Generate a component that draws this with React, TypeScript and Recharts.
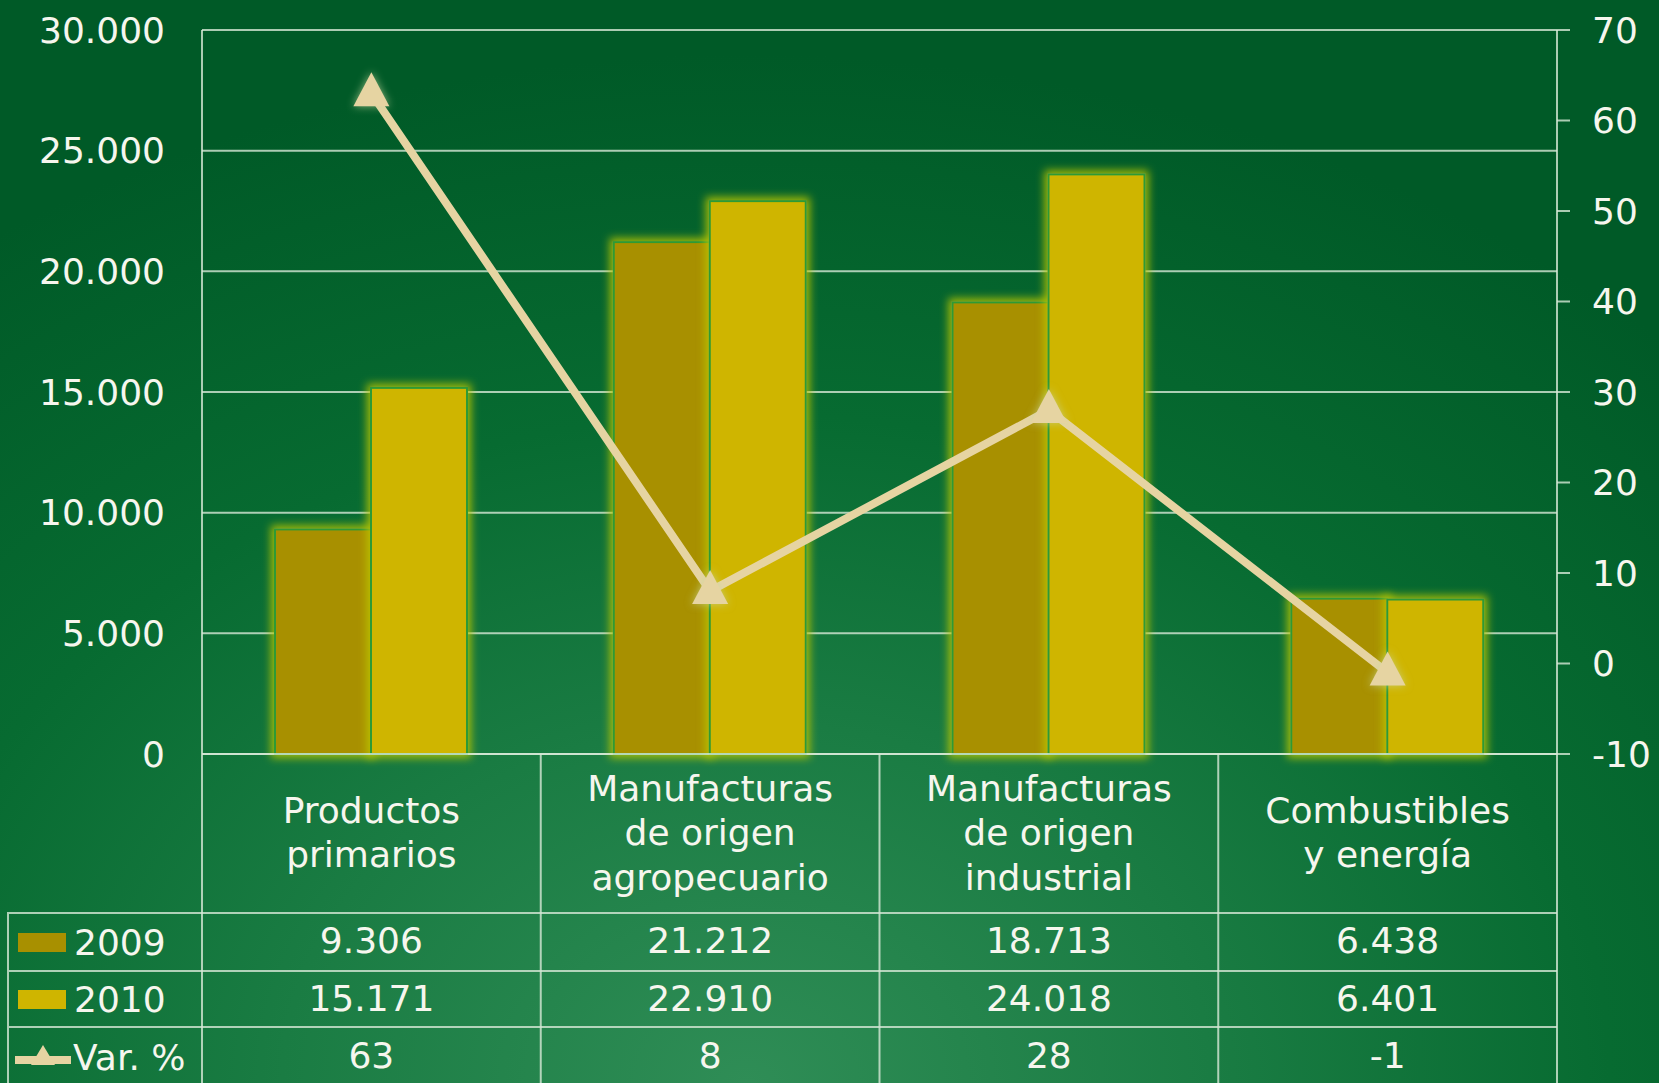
import React from 'react';
import { ComposedChart, Bar, Line, XAxis, YAxis, CartesianGrid, Legend } from 'recharts';

const categories = [
  'Productos\nprimarios',
  'Manufacturas\nde origen\nagropecuario',
  'Manufacturas\nde origen\nindustrial',
  'Combustibles\ny energía',
];
const exports2009 = [9306, 21212, 18713, 6438];
const exports2010 = [15171, 22910, 24018, 6401];
const variation = [63, 8, 28, -1];
const valueTicks = [0, 5000, 10000, 15000, 20000, 25000, 30000];
const pctTicks = [-10, 0, 10, 20, 30, 40, 50, 60, 70];

const data = categories.map((name, i) => ({
  name,
  y2009: exports2009[i],
  y2010: exports2010[i],
  pct: variation[i],
}));

const FONT = '"DejaVu Sans", Verdana, sans-serif';
const TEXT = '#F6F6EE';
const GRID = 'rgba(215,232,215,0.8)';
const LINE = '#E6D4A2';
const C2009 = '#A89000';
const C2010 = '#CFB500';

const fmt = (n: number) => String(n).replace(/\B(?=(\d{3})+(?!\d))/g, '.');

const GlowBar = (p: any) => (
  <rect
    x={p.x}
    y={p.y}
    width={p.width}
    height={p.height}
    fill={p.fill}
    stroke="#2E9A34"
    strokeWidth={2}
    filter="url(#barGlow)"
  />
);

const TriangleDot = (p: any) => {
  const { cx, cy } = p;
  if (cx == null || cy == null) return null;
  return (
    <polygon
      points={`${cx},${cy - 21} ${cx - 18},${cy + 13} ${cx + 18},${cy + 13}`}
      fill={LINE}
      filter="url(#triGlow)"
    />
  );
};

// category label plus the data table column under it
const TableTick = (props: any) => {
  const { x, y, payload, index } = props;
  const half = payload && payload.offset ? payload.offset : 169.4;
  const lines = String(payload.value).split('\n');
  const rows = [fmt(exports2009[index]), fmt(exports2010[index]), String(variation[index])];
  const left = x - half;
  const right = x + half;
  return (
    <g>
      <line x1={left} y1={y} x2={left} y2={y + 340} stroke={GRID} strokeWidth={2} />
      {index === categories.length - 1 && (
        <line x1={right} y1={y} x2={right} y2={y + 340} stroke={GRID} strokeWidth={2} />
      )}
      {[159, 217, 273].map((dy) => (
        <line key={dy} x1={left} y1={y + dy} x2={right} y2={y + dy} stroke={GRID} strokeWidth={2} />
      ))}
      <text textAnchor="middle" fill={TEXT} fontSize={36} fontFamily={FONT}>
        {lines.map((l, k) => (
          <tspan key={k} x={x} y={y + 91 + (k - (lines.length - 1) / 2) * 44.5}>
            {l}
          </tspan>
        ))}
      </text>
      {rows.map((r, k) => (
        <text
          key={k}
          x={x}
          y={y + [199, 257, 314][k]}
          textAnchor="middle"
          fill={TEXT}
          fontSize={36}
          fontFamily={FONT}
        >
          {r}
        </text>
      ))}
    </g>
  );
};

const order = ['y2009', 'y2010', 'pct'];

const LegendTable = (props: any) => {
  const items = [...(props.payload || [])].sort(
    (a: any, b: any) => order.indexOf(a.dataKey) - order.indexOf(b.dataKey)
  );
  const heights = [58, 56, 60];
  return (
    <div style={{ width: 195, fontFamily: FONT, fontSize: 36, color: TEXT }}>
      {items.map((it: any, k: number) => (
        <div
          key={it.dataKey}
          style={{
            height: heights[k],
            borderTop: `2px solid ${GRID}`,
            borderLeft: `2px solid ${GRID}`,
            boxSizing: 'border-box',
            display: 'flex',
            alignItems: 'center',
            whiteSpace: 'nowrap',
          }}
        >
          {it.dataKey === 'pct' ? (
            <svg width={60} height={30} style={{ marginLeft: 4 }}>
              <line x1={2} y1={18} x2={58} y2={18} stroke={LINE} strokeWidth={8} />
              <polygon points="30,3 18,23 42,23" fill={LINE} />
            </svg>
          ) : (
            <div style={{ width: 48, height: 19, background: it.color, marginLeft: 9, marginRight: 8 }} />
          )}
          <span>{it.value}</span>
        </div>
      ))}
    </div>
  );
};

export default function App() {
  return (
    <div
      style={{
        position: 'absolute',
        left: 0,
        top: 0,
        width: 1659,
        height: 1083,
        overflow: 'hidden',
        background:
          'radial-gradient(ellipse 80% 95% at 45% 100%, #2F8D56 0%, #1A7C43 35%, #076B31 65%, #005A27 100%)',
      }}
    >
      <ComposedChart
        width={1659}
        height={1083}
        data={data}
        margin={{ top: 30, right: 0, bottom: 0, left: 0 }}
        barGap={0}
        style={{ fontFamily: FONT }}
      >
        <defs>
          <filter id="barGlow" x="-20%" y="-10%" width="140%" height="120%">
            <feMorphology in="SourceAlpha" operator="dilate" radius="3" result="d" />
            <feGaussianBlur in="d" stdDeviation="4.5" result="b" />
            <feFlood floodColor="#BCC800" floodOpacity="0.85" />
            <feComposite in2="b" operator="in" result="g" />
            <feMerge>
              <feMergeNode in="g" />
              <feMergeNode in="SourceGraphic" />
            </feMerge>
          </filter>
          <filter id="triGlow" x="-60%" y="-60%" width="220%" height="220%">
            <feGaussianBlur in="SourceAlpha" stdDeviation="4" result="b" />
            <feFlood floodColor="#C8D8A0" floodOpacity="0.7" />
            <feComposite in2="b" operator="in" result="g" />
            <feMerge>
              <feMergeNode in="g" />
              <feMergeNode in="SourceGraphic" />
            </feMerge>
          </filter>
        </defs>
        <CartesianGrid yAxisId="val" vertical={false} stroke={GRID} strokeWidth={2} />
        <XAxis
          dataKey="name"
          height={329}
          interval={0}
          tickSize={0}
          tickMargin={0}
          axisLine={{ stroke: GRID, strokeWidth: 2 }}
          tick={<TableTick />}
        />
        <YAxis
          yAxisId="val"
          width={202}
          domain={[0, 30000]}
          ticks={valueTicks}
          tickFormatter={fmt}
          tickLine={false}
          tickSize={10}
          tickMargin={27}
          axisLine={{ stroke: GRID, strokeWidth: 2 }}
          tick={{ fill: TEXT, fontSize: 36, fontFamily: FONT }}
        />
        <YAxis
          yAxisId="pct"
          orientation="right"
          width={102}
          domain={[-10, 70]}
          ticks={pctTicks}
          tickSize={13}
          tickMargin={22}
          tickLine={{ stroke: GRID, strokeWidth: 2 }}
          axisLine={{ stroke: GRID, strokeWidth: 2 }}
          tick={{ fill: TEXT, fontSize: 36, fontFamily: FONT, textAnchor: 'start' }}
        />
        <Legend
          layout="vertical"
          align="center"
          verticalAlign="middle"
          wrapperStyle={{ left: 7, top: 912, width: 195 }}
          content={<LegendTable />}
        />
        <Bar yAxisId="val" dataKey="y2009" name="2009" fill={C2009} barSize={96} shape={GlowBar} isAnimationActive={false} />
        <Bar yAxisId="val" dataKey="y2010" name="2010" fill={C2010} barSize={96} shape={GlowBar} isAnimationActive={false} />
        <Line
          yAxisId="pct"
          dataKey="pct"
          name="Var. %"
          type="linear"
          stroke={LINE}
          strokeWidth={8}
          dot={<TriangleDot />}
          activeDot={false}
          isAnimationActive={false}
        />
      </ComposedChart>
    </div>
  );
}
